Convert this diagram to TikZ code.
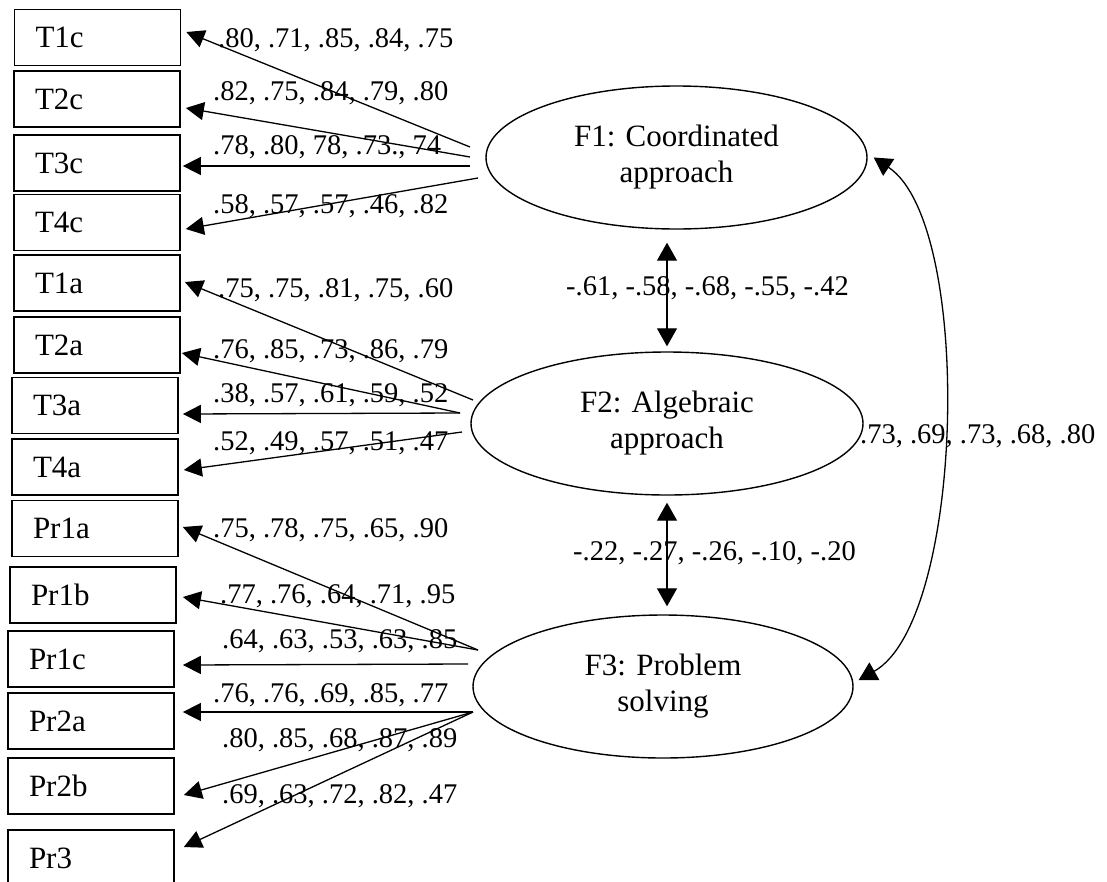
\documentclass[tikz,border=0pt]{standalone}
\usepackage{fontspec}
\setmainfont{Liberation Serif}
\usetikzlibrary{shapes.geometric,arrows.meta,calc}
\begin{document}
\begin{tikzpicture}[x=1pt,y=-1pt,
  every node/.style={font=\fontsize{28.5}{36}\selectfont},
  item/.style={draw, line width=1.7pt, rectangle, minimum height=56pt,
    inner xsep=21pt, inner ysep=0pt, text width=124pt, align=left,
    font=\fontsize{31}{36}\selectfont},
  factor/.style={draw, line width=1.4pt, ellipse, minimum height=143pt,
    inner sep=0pt, align=center, font=\fontsize{31}{36}\selectfont},
  load/.style={line width=1.3pt, -{Triangle[length=18pt,width=18pt]}},
  corr/.style={line width=1.3pt,
    {Triangle[length=18pt,width=20pt]}-{Triangle[length=18pt,width=20pt]}},
  coef/.style={anchor=base west, inner sep=0pt}
]
\useasboundingbox (0,0) rectangle (1107,881);

% observed indicators
\node[item] (T1c)  at (97.5,37.5) {T1c};
\node[item] (T2c)  at (97,99)     {T2c};
\node[item] (T3c)  at (97,163)    {T3c};
\node[item] (T4c)  at (97,222.5)  {T4c};
\node[item] (T1a)  at (97,283)    {T1a};
\node[item] (T2a)  at (97,345)    {T2a};
\node[item] (T3a)  at (95,405.5)  {T3a};
\node[item] (T4a)  at (95,467)    {T4a};
\node[item] (Pr1a) at (95,528.5)  {Pr1a};
\node[item] (Pr1b) at (93,595)    {Pr1b};
\node[item] (Pr1c) at (91,659)    {Pr1c};
\node[item] (Pr2a) at (91,721)    {Pr2a};
\node[item] (Pr2b) at (91,786)    {Pr2b};
\node[item] (Pr3)  at (91,858)    {Pr3};

% latent factors
\node[factor, minimum width=381pt] (F1) at (676.5,157.5) {F1: Coordinated\\approach};
\node[factor, minimum width=392pt] (F2) at (667,423.5)   {F2: Algebraic\\approach};
\node[factor, minimum width=380pt] (F3) at (663,686.5)   {F3: Problem\\solving};

% origins of the loading arrows, just left of each factor
\coordinate (c1)  at (470,147);
\coordinate (c2)  at (470,157);
\coordinate (c3)  at (470,166);
\coordinate (c4)  at (478,178);
\coordinate (c5)  at (473,400);
\coordinate (c6)  at (460,413);
\coordinate (c8)  at (462,432);
\coordinate (c9)  at (478,650);
\coordinate (c11) at (468,664);
\coordinate (c12) at (473,712);

% factor loadings
\draw[load] (c1)  -- ($(T1c.east)+(5,-5.5)$);
\draw[load] (c2)  -- ($(T2c.east)+(5,9)$);
\draw[load] (c3)  -- ($(T3c.east)+(2,3)$);
\draw[load] (c4)  -- ($(T4c.east)+(5,6.5)$);
\draw[load] (c5)  -- ($(T1a.east)+(4,-1)$);
\draw[load] (c6)  -- ($(T2a.east)+(1,8)$);
\draw[load] (c6)  -- ($(T3a.east)+(4,8.5)$);
\draw[load] (c8)  -- ($(T4a.east)+(5,3)$);
\draw[load] (c9)  -- ($(Pr1a.east)+(4,-1.5)$);
\draw[load] (c9)  -- ($(Pr1b.east)+(6,2)$);
\draw[load] (c11) -- ($(Pr1c.east)+(8,6)$);
\draw[load] (c12) -- ($(Pr2a.east)+(8,-9)$);
\draw[load] (c12) -- ($(Pr2b.east)+(9,9)$);
\draw[load] (c12) -- ($(Pr3.east)+(9,-11)$);

\node[coef] (l1)  at (218,47)  {.80, .71, .85, .84, .75};
\node[coef] (l2)  at (213,100) {.82, .75, .84, .79, .80};
\node[coef] (l3)  at (213,154) {.78, .80, 78, .73., 74};
\node[coef] (l4)  at (213,213) {.58, .57, .57, .46, .82};
\node[coef] (l5)  at (218,297) {.75, .75, .81, .75, .60};
\node[coef] (l6)  at (213,358) {.76, .85, .73, .86, .79};
\node[coef] (l7)  at (213,402) {.38, .57, .61, .59, .52};
\node[coef] (l8)  at (213,450) {.52, .49, .57, .51, .47};
\node[coef] (l9)  at (213,537) {.75, .78, .75, .65, .90};
\node[coef] (l10) at (220,603) {.77, .76, .64, .71, .95};
\node[coef] (l11) at (222,648) {.64, .63, .53, .63, .85};
\node[coef] (l12) at (213,702) {.76, .76, .69, .85, .77};
\node[coef] (l13) at (222,747) {.80, .85, .68, .87, .89};
\node[coef] (l14) at (222,803) {.69, .63, .72, .82, .47};

% factor correlations
\draw[corr, shorten <=13pt, shorten >=5pt] (F2.north |- F1.south) -- (F2.north);
\draw[corr, shorten <=7pt, shorten >=8pt] (F2.south) -- (F2.south |- F3.north);
\draw[corr] ([xshift=6pt]F1.east) .. controls (974,224) and (965,620) .. ([xshift=5pt,yshift=6.5pt]F3.east);

\node[coef] (r1) at (566,295) {-.61, -.58, -.68, -.55, -.42};
\node[coef] (r2) at (573,560) {-.22, -.27, -.26, -.10, -.20};
\node[coef] (r3) at (860,443) {.73, .69, .73, .68, .80};
\end{tikzpicture}
\end{document}
